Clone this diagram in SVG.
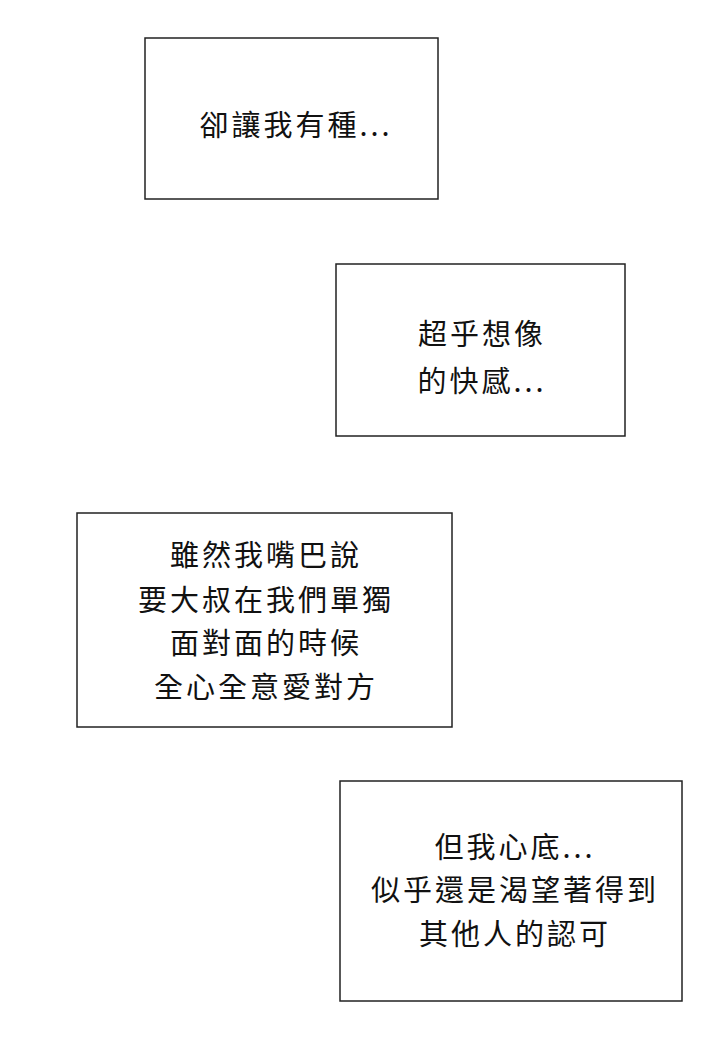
<svg xmlns="http://www.w3.org/2000/svg" width="720" height="1057" viewBox="0 0 720 1057">
<style>
rect{fill:#fff;stroke:#222;stroke-width:1.5}
text{font-family:"Noto Sans CJK TC","Noto Sans CJK SC",sans-serif;font-size:29px;letter-spacing:3px;fill:#111;text-anchor:middle}
</style>
<rect x="0" y="0" width="720" height="1057" style="stroke:none"/>
<g id="box1"><rect x="145" y="38" width="293" height="161"/><text x="296" y="136">卻讓我有種...</text></g>
<g id="box2"><rect x="336" y="264" width="289" height="172"/><text x="482" y="345">超乎想像</text><text x="482" y="392">的快感...</text></g>
<g id="box3"><rect x="77" y="513" width="375" height="214"/><text x="266" y="566">雖然我嘴巴說</text><text x="266" y="611">要大叔在我們單獨</text><text x="266" y="654">面對面的時候</text><text x="266" y="698">全心全意愛對方</text></g>
<g id="box4"><rect x="340" y="781" width="342" height="220"/><text x="515" y="858">但我心底...</text><text x="515" y="901">似乎還是渴望著得到</text><text x="515" y="945">其他人的認可</text></g>
<g id="connectors"></g>
</svg>
